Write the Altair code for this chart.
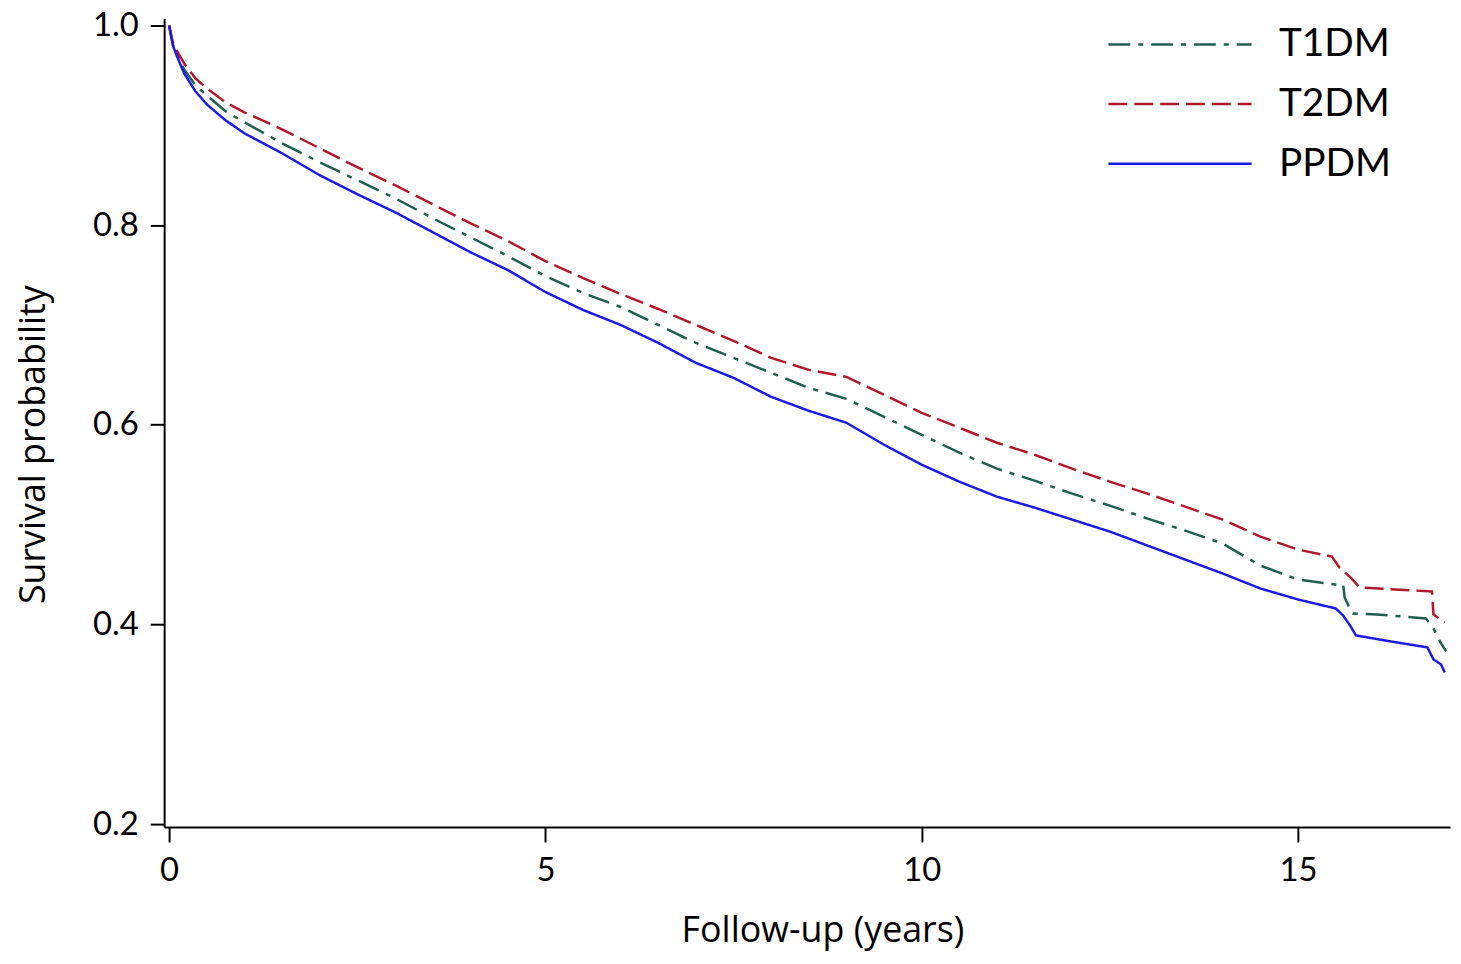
import altair as alt
import pandas as pd

series = ["T1DM", "T2DM", "PPDM"]
colors = ["#1f5f4f", "#b2182b", "#1a1aeb"]
dashes = [[22, 8, 5, 8], [19, 7], [1, 0]]

t1dm_t = [0, 0.05, 0.1, 0.2, 0.35, 0.5, 0.75, 1, 1.5, 2, 2.5, 3, 3.5, 4, 4.5, 5, 5.5, 6,
          6.5, 7, 7.5, 8, 8.5, 9, 9.5, 10, 10.5, 11, 11.5, 12, 12.5, 13, 13.5, 14, 14.5,
          15, 15.5, 15.6, 15.62, 15.7, 15.73, 16.05, 16.7, 16.8, 16.9, 16.97]
t1dm_s = [1.0, 0.981, 0.972, 0.956, 0.940, 0.930, 0.914, 0.903, 0.882, 0.863, 0.845, 0.827,
          0.807, 0.788, 0.769, 0.749, 0.732, 0.718, 0.700, 0.682, 0.667, 0.652, 0.637, 0.626,
          0.608, 0.590, 0.572, 0.556, 0.544, 0.531, 0.519, 0.506, 0.494, 0.481, 0.459, 0.445,
          0.440, 0.440, 0.427, 0.414, 0.411, 0.410, 0.406, 0.396, 0.381, 0.373]

t2dm_t = [0, 0.05, 0.1, 0.2, 0.35, 0.5, 0.75, 1, 1.5, 2, 2.5, 3, 3.5, 4, 4.5, 5, 5.5, 6,
          6.5, 7, 7.5, 8, 8.5, 9, 9.5, 10, 10.5, 11, 11.5, 12, 12.5, 13, 13.5, 14, 14.5,
          15, 15.45, 15.55, 15.7, 15.82, 16.78, 16.8, 16.95]
t2dm_s = [1.0, 0.983, 0.975, 0.962, 0.947, 0.937, 0.923, 0.913, 0.896, 0.877, 0.858, 0.840,
          0.821, 0.802, 0.784, 0.764, 0.747, 0.731, 0.716, 0.700, 0.684, 0.667, 0.655, 0.648,
          0.630, 0.612, 0.597, 0.582, 0.570, 0.556, 0.543, 0.531, 0.518, 0.505, 0.488, 0.475,
          0.468, 0.457, 0.447, 0.437, 0.433, 0.410, 0.402]

ppdm_t = [0, 0.05, 0.1, 0.2, 0.35, 0.5, 0.75, 1, 1.5, 2, 2.5, 3, 3.5, 4, 4.5, 5, 5.5, 6,
          6.5, 7, 7.5, 8, 8.5, 9, 9.5, 10, 10.5, 11, 11.5, 12, 12.5, 13, 13.5, 14, 14.5,
          15, 15.5, 15.6, 15.7, 15.77, 16.15, 16.72, 16.8, 16.9, 16.95]
ppdm_s = [1.0, 0.980, 0.970, 0.952, 0.934, 0.921, 0.905, 0.892, 0.872, 0.850, 0.831, 0.813,
          0.793, 0.773, 0.755, 0.733, 0.715, 0.700, 0.682, 0.662, 0.647, 0.628, 0.614, 0.602,
          0.580, 0.560, 0.543, 0.528, 0.517, 0.505, 0.493, 0.479, 0.465, 0.451, 0.436, 0.425,
          0.416, 0.409, 0.398, 0.389, 0.384, 0.377, 0.365, 0.360, 0.352]

x_ticks = [0, 5, 10, 15]
y_ticks = [0.2, 0.4, 0.6, 0.8, 1.0]

rows = []
for name, ts, ss in [("T1DM", t1dm_t, t1dm_s), ("T2DM", t2dm_t, t2dm_s), ("PPDM", ppdm_t, ppdm_s)]:
    for i, (t, s) in enumerate(zip(ts, ss)):
        rows.append({"series": name, "t": t, "s": s, "order": i})
df = pd.DataFrame(rows)

FONT = "Lato"
TFONT = "Open Sans"

legend = alt.Legend(
    title=None, orient="none", legendX=948, legendY=6, padding=0,
    symbolType="stroke", symbolSize=20736, symbolStrokeWidth=2.5,
    clipHeight=40, rowPadding=20, labelFont=FONT, labelFontSize=39,
    labelColor="black", labelOffset=26,
)

chart = alt.Chart(df).mark_line(strokeWidth=2.5, clip=True).encode(
    x=alt.X("t:Q",
            scale=alt.Scale(domain=[-0.066, 17.02], nice=False, zero=False),
            axis=alt.Axis(values=x_ticks, title="Follow-up (years)", tickSize=15,
                          labelPadding=13, labelFontSize=33, labelFlush=False,
                          titleFont=TFONT, titleFontSize=36, titleX=662, titleY=115,
                          titleAlign="center", titleBaseline="alphabetic")),
    y=alt.Y("s:Q",
            scale=alt.Scale(domain=[0.197, 1.0069], nice=False, zero=False),
            axis=alt.Axis(values=y_ticks, format=".1f", title="Survival probability",
                          tickSize=14, labelPadding=12, labelFontSize=33, labelFlush=False,
                          titleFont=TFONT, titleFontSize=36, titleAngle=270, titleX=-120,
                          titleY=428, titleAlign="center", titleBaseline="alphabetic")),
    color=alt.Color("series:N", scale=alt.Scale(domain=series, range=colors), legend=legend),
    strokeDash=alt.StrokeDash("series:N", scale=alt.Scale(domain=series, range=dashes), legend=legend),
    order=alt.Order("order:Q"),
).properties(
    width=1293, height=813,
    autosize=alt.AutoSizeParams(type="none"),
    padding={"left": 157, "top": 8, "right": 3, "bottom": 127},
).configure_view(stroke=None).configure_axis(
    grid=False, domainColor="black", domainWidth=2, tickColor="black", tickWidth=2,
    labelFont=FONT, titleFont=FONT, labelColor="black", titleColor="black",
    titleFontWeight="normal",
)

chart.save("out.html", embed_options={"renderer": "svg", "actions": False})
